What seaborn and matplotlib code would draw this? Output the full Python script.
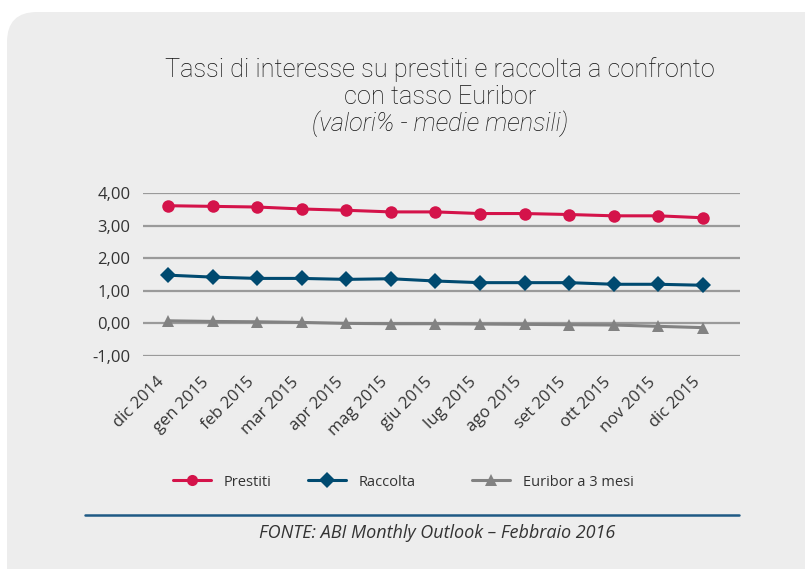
import numpy as np
import pandas as pd
import seaborn as sns
import matplotlib
matplotlib.use('Agg')
import matplotlib.pyplot as plt
from matplotlib.patches import FancyBboxPatch
from matplotlib.lines import Line2D
from matplotlib.transforms import IdentityTransform

months = ['dic 2014', 'gen 2015', 'feb 2015', 'mar 2015', 'apr 2015', 'mag 2015', 'giu 2015',
          'lug 2015', 'ago 2015', 'set 2015', 'ott 2015', 'nov 2015', 'dic 2015']
prestiti = [3.61, 3.59, 3.57, 3.51, 3.47, 3.42, 3.42, 3.37, 3.37, 3.34, 3.30, 3.30, 3.24]
raccolta = [1.48, 1.42, 1.38, 1.38, 1.35, 1.37, 1.30, 1.25, 1.25, 1.25, 1.20, 1.20, 1.17]
euribor = [0.08, 0.06, 0.05, 0.03, 0.00, -0.01, -0.01, -0.02, -0.03, -0.04, -0.05, -0.09, -0.13]
series_names = ['Prestiti', 'Raccolta', 'Euribor a 3 mesi']
yticks = [-1, 0, 1, 2, 3, 4]

colors = {'Prestiti': '#d4134a', 'Raccolta': '#004a70', 'Euribor a 3 mesi': '#828282'}
markers = {'Prestiti': 'o', 'Raccolta': 'D', 'Euribor a 3 mesi': '^'}

df = pd.DataFrame({'mese': months * 3,
                   'valore': prestiti + raccolta + euribor,
                   'serie': np.repeat(series_names, len(months))})
df['x'] = np.tile(np.arange(len(months)), 3)

sns.set_style('white')
plt.rcParams['font.family'] = ['Open Sans', 'DejaVu Sans']
bg = '#ededed'

fig = plt.figure(figsize=(8.05, 5.69), dpi=100)
fig.patch.set_facecolor('white')
panel = FancyBboxPatch((7, -40), 900, 569 - 12 + 40, boxstyle='round,pad=0,rounding_size=30',
                       transform=IdentityTransform(), facecolor=bg, edgecolor='none', zorder=-5)
fig.patches.append(panel)

ax = fig.add_axes([143 / 805, (569 - 356) / 569, 597 / 805, 163 / 569])
ax.set_facecolor('none')
ax.set_zorder(2)
for y in yticks:
    ax.axhline(y, color='#9a9a9a', lw=1.6, zorder=1)

for name in series_names:
    sub = df[df['serie'] == name]
    sns.lineplot(data=sub, x='x', y='valore', ax=ax, color=colors[name], marker=markers[name],
                 markersize=9 if name != 'Raccolta' else 8.5, markeredgewidth=0, lw=2.2,
                 clip_on=False, zorder=3, legend=False)

ax.set_xlim(-0.56, 12.83)
ax.set_ylim(-1, 4)
ax.set_yticks(yticks)
ax.set_yticklabels([f'{v:,.2f}'.replace('.', ',') if v >= 0 else '-' + f'{-v:.2f}'.replace('.', ',') for v in yticks],
                   fontsize=12, color='#333333')
ax.set_xticks(range(len(months)))
ax.set_xticklabels(months, rotation=45, ha='right', fontsize=12, color='#333333')
ax.tick_params(axis='x', length=0, pad=13)
ax.tick_params(axis='y', length=0, pad=9)
ax.set_xlabel('')
ax.set_ylabel('')
for s in ax.spines.values():
    s.set_visible(False)

# title
tfont = ['Roboto', 'DejaVu Sans']
fig.text(440 / 805, 1 - 70 / 569, 'Tassi di interesse su prestiti e raccolta a confronto',
         ha='center', va='center', fontsize=18.3, family=tfont, weight='light', color='#111111')
fig.text(440 / 805, 1 - 97 / 569, 'con tasso Euribor', ha='center', va='center',
         fontsize=18.3, family=tfont, weight='light', color='#111111')
fig.text(440 / 805, 1 - 124 / 569, '(valori% - medie mensili)', ha='center', va='center',
         fontsize=18.3, family=tfont, weight='light', style='italic', color='#111111')

# legend entries
leg_pos = [173, 308, 472]
for name, x0 in zip(series_names, leg_pos):
    h = Line2D([], [], color=colors[name], marker=markers[name], markersize=8, lw=2.2, markeredgewidth=0)
    lg = fig.legend(handles=[h], labels=[name], loc='center left', frameon=False,
                    bbox_to_anchor=((x0 - 6) / 805, 1 - 482 / 569), handlelength=2.6,
                    handletextpad=0.9, fontsize=10.5, borderaxespad=0, borderpad=0.4)
    for t in lg.get_texts():
        t.set_color('#333333')

fig.add_artist(Line2D([85 / 805, 739 / 805], [1 - 515 / 569, 1 - 515 / 569], color='#1f5a85', lw=1.8))
fig.text(437 / 805, 1 - 533 / 569, 'FONTE: ABI Monthly Outlook – Febbraio 2016', ha='center', va='center',
         fontsize=13, style='italic', color='#333333')

fig.savefig('out.png', dpi=100, facecolor=fig.get_facecolor())
